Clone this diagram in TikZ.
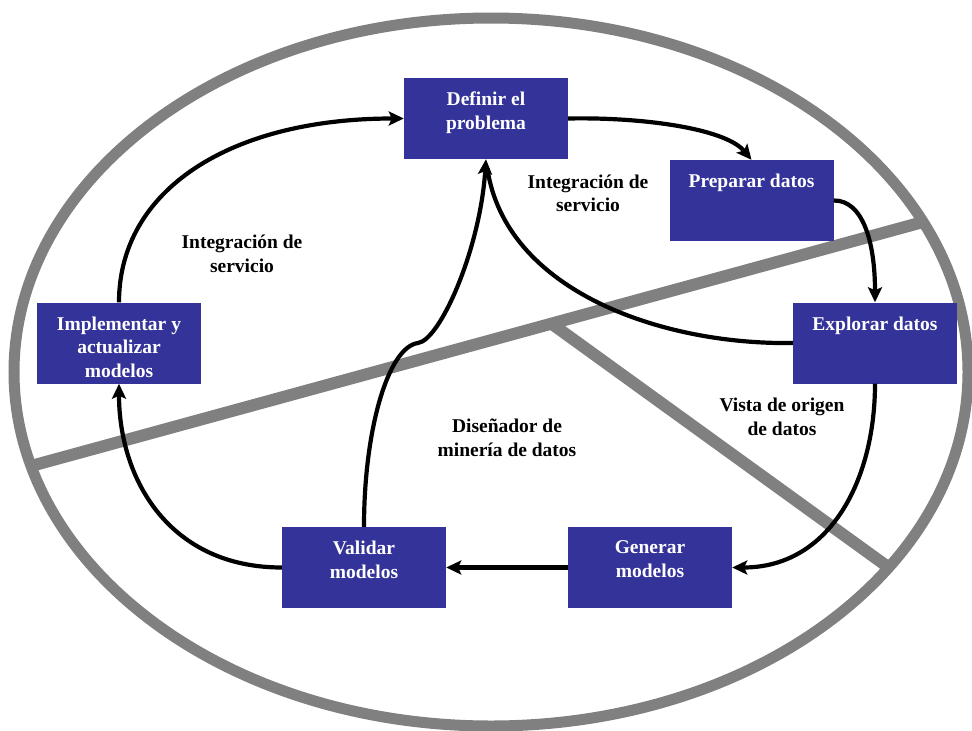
\documentclass[tikz,border=0pt]{standalone}
\usepackage{fontspec}
\setmainfont{Liberation Serif}
\usetikzlibrary{arrows.meta,calc}
\definecolor{stageblue}{RGB}{51,51,153}
\definecolor{ringgray}{RGB}{128,128,128}
\begin{document}
\begin{tikzpicture}[x=1pt,y=-1pt,
  stage/.style={rectangle, fill=stageblue, draw=none,
    minimum width=164pt, minimum height=81pt, inner sep=0pt},
  stagetext/.style={anchor=north, inner sep=0pt, align=center, text=white,
    font=\bfseries\fontsize{19.5}{23.5}\selectfont},
  tag/.style={inner sep=0pt, align=center,
    font=\bfseries\fontsize{19.5}{23.5}\selectfont},
  flow/.style={line width=4.2pt, -{Stealth[length=15pt,width=14pt,inset=3pt]}},
  plainflow/.style={line width=4.2pt},
  divider/.style={draw=ringgray, line width=12pt}]
\useasboundingbox (0,0) rectangle (972,731);
\fill[white] (0,0) rectangle (972,731);

% outer ring and the two dividing bars
\draw[ringgray, line width=11pt] (491,372) ellipse [x radius=477pt, y radius=354pt];
\coordinate (cutL) at (31,466);
\coordinate (cutR) at (923,222);
\coordinate (cutM) at (552,324);
\coordinate (cutB) at (888,567);
\draw[divider] (cutL) -- (cutR);
\draw[divider] (cutM) -- (cutB);

% stages of the cycle
\node[stage] (def)  at (486,118.5) {};
\node[stage] (prep) at (751.5,200.5) {};
\node[stage] (expl) at (875,343) {};
\node[stage] (gen)  at (650,567.5) {};
\node[stage] (val)  at (364,567.5) {};
\node[stage] (impl) at (119,343) {};

\node[stagetext] (def-t)  at ($(def.north)+(0,14)$)  {Definir el\\problema};
\node[stagetext] (prep-t) at ($(prep.north)+(0,14)$) {Preparar datos};
\node[stagetext] (expl-t) at ($(expl.north)+(0,14)$) {Explorar datos};
\node[stagetext] (gen-t)  at ($(gen.north)+(0,14)$)  {Generar\\modelos};
\node[stagetext] (val-t)  at ($(val.north)+(0,14)$)  {Validar\\modelos};
\node[stagetext] (impl-t) at ($(impl.north)+(0,14)$) {Implementar y\\actualizar\\modelos};

% tool labels
\node[tag] (svcR)  at (588,193.5) {Integración de\\servicio};
\node[tag] (svcL)  at (242,254)   {Integración de\\servicio};
\node[tag] (miner) at (507,438)   {Diseñador de\\minería de datos};
\node[tag] (vista) at (782,417)   {Vista de origen\\de datos};

% connectors
\draw[flow] (def.east) .. controls (640,117) and (725,128) .. (prep.north);
\draw[flow] (prep.east) .. controls (862,200) and (875,240) .. (expl.north);
\draw[flow] (expl.south) .. controls (875,480) and (830,567.5) .. (gen.east);
\draw[flow] (gen.west) -- (val.east);
\draw[flow] (val.west) .. controls (170,567.5) and (119,480) .. (impl.south);
\draw[flow] (impl.north) .. controls (119,190) and (230,118.5) .. (def.west);
\draw[flow] (val.north) .. controls (364,430) and (388,347) .. (418,343)
  .. controls (440,340) and (480,250) .. (def.south);
\draw[plainflow, shorten >=9pt] (expl.west) .. controls (660,345) and (505,290) .. (def.south);
\end{tikzpicture}
\end{document}
